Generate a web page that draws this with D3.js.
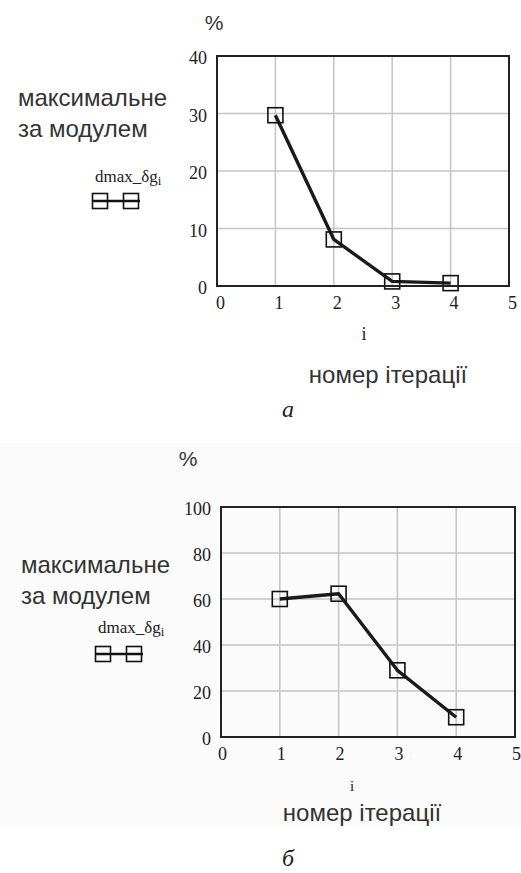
<!DOCTYPE html>
<html><head><meta charset="utf-8">
<script src="https://cdn.jsdelivr.net/npm/d3@7"></script>
<style>
html,body{margin:0;padding:0;background:#fff;}
svg{display:block;}
</style></head>
<body>
<script>
// ---- data ----
const iterations = [1, 2, 3, 4];
const seriesA = [29.7, 8.1, 0.8, 0.5];
const seriesB = [60, 62.3, 29, 8.6];
const xTicks = [0, 1, 2, 3, 4, 5];
const yTicksA = [0, 10, 20, 30, 40];
const yTicksB = [0, 20, 40, 60, 80, 100];
const yGridA = [10, 20, 30];
const yGridB = [20, 40, 60, 80];
const xGrid = [1, 2, 3, 4];
const labelLines = ["максимальне", "за модулем"];
const xTitle = "номер ітерації";
const panelLetters = ["а", "б"];

const W = 521, H = 873;
const svg = d3.select("body").append("svg").attr("width", W).attr("height", H);
svg.append("rect").attr("width", W).attr("height", H).attr("fill", "#ffffff");
svg.append("rect").attr("x", 0).attr("y", 443).attr("width", W).attr("height", 382).attr("fill", "#fbfbfb");

function panel(cfg) {
  const x = d3.scaleLinear().domain([0, 5]).range([cfg.left, cfg.right]);
  const y = d3.scaleLinear().domain([0, cfg.ymax]).range([cfg.bottom, cfg.top]);
  const g = svg.append("g");

  // grid
  g.append("g").selectAll("line").data(xGrid).join("line")
    .attr("x1", d => x(d)).attr("x2", d => x(d))
    .attr("y1", cfg.top).attr("y2", cfg.bottom)
    .attr("stroke", "#c4c4c4").attr("stroke-width", 1.5);
  g.append("g").selectAll("line").data(cfg.ygrid).join("line")
    .attr("y1", d => y(d)).attr("y2", d => y(d))
    .attr("x1", cfg.left).attr("x2", cfg.right)
    .attr("stroke", "#c4c4c4").attr("stroke-width", 1.5);

  // line
  const pts = iterations.map((d, i) => [d, cfg.data[i]]);
  g.append("path").datum(pts)
    .attr("d", d3.line().x(d => x(d[0])).y(d => y(d[1])))
    .attr("fill", "none").attr("stroke", "#1a1a1a").attr("stroke-width", 3.4)
    .attr("stroke-linejoin", "round");

  // markers
  g.append("g").selectAll("rect").data(pts).join("rect")
    .attr("x", d => x(d[0]) - 7.5).attr("y", d => y(d[1]) - 7.5)
    .attr("width", 15).attr("height", 15)
    .attr("fill", "none").attr("stroke", "#111").attr("stroke-width", 1.6);

  // frame
  g.append("rect").attr("x", cfg.left).attr("y", cfg.top)
    .attr("width", cfg.right - cfg.left).attr("height", cfg.bottom - cfg.top)
    .attr("fill", "none").attr("stroke", "#222").attr("stroke-width", 2);

  // axes (labels only)
  const xa = g.append("g").attr("transform", `translate(${cfg.xlabShift},${cfg.bottom})`)
    .call(d3.axisBottom(x).tickValues(xTicks).tickSize(0).tickPadding(10).tickFormat(d3.format("d")));
  xa.select(".domain").remove();
  xa.selectAll("text").attr("font-family", "Liberation Serif").attr("font-size", 18).attr("fill", "#222");

  const ya = g.append("g").attr("transform", `translate(${cfg.left},2)`)
    .call(d3.axisLeft(y).tickValues(cfg.yticks).tickSize(0).tickPadding(10).tickFormat(d3.format("d")));
  ya.select(".domain").remove();
  ya.selectAll("text").attr("font-family", "Liberation Serif").attr("font-size", 18).attr("fill", "#222");

  // % label
  g.append("text").attr("x", cfg.pctX).attr("y", cfg.pctY).attr("text-anchor", "middle")
    .attr("dominant-baseline", "central")
    .attr("font-family", "Liberation Sans").attr("font-size", 21).attr("fill", "#333").text("%");

  // y title
  labelLines.forEach((t, i) => {
    g.append("text").attr("x", cfg.titleX).attr("y", cfg.titleY + i * cfg.titleGap)
      .attr("font-family", "Liberation Sans").attr("font-size", 24).attr("fill", "#333")
      .text(t);
  });

  // legend
  const lt = g.append("text").attr("x", cfg.legX).attr("y", cfg.legY)
    .attr("font-family", "Liberation Serif").attr("font-size", 17).attr("fill", "#222");
  lt.append("tspan").text("dmax_δg");
  lt.append("tspan").attr("dy", 3).attr("font-size", 13).text("i");
  g.append("line").attr("x1", cfg.symX).attr("x2", cfg.symX + 48)
    .attr("y1", cfg.symY).attr("y2", cfg.symY).attr("stroke", "#111").attr("stroke-width", 2.5);
  [8, 39].forEach(o => {
    g.append("rect").attr("x", cfg.symX + o - 7.5).attr("y", cfg.symY - 7.5)
      .attr("width", 15).attr("height", 15).attr("fill", "none")
      .attr("stroke", "#111").attr("stroke-width", 1.6);
  });

  // i label
  g.append("text").attr("x", cfg.iX).attr("y", cfg.iY).attr("text-anchor", "middle")
    .attr("font-family", "Liberation Serif").attr("font-size", cfg.iSize).attr("fill", "#222").text("i");

  // x title
  g.append("text").attr("x", cfg.xtX).attr("y", cfg.xtY).attr("text-anchor", "middle")
    .attr("dominant-baseline", "central")
    .attr("font-family", "Liberation Sans").attr("font-size", 24).attr("fill", "#333").text(xTitle);

  // panel letter
  g.append("text").attr("x", cfg.letX).attr("y", cfg.letY).attr("text-anchor", "middle")
    .attr("font-family", "Liberation Serif").attr("font-style", "italic").attr("font-size", 24)
    .attr("fill", "#222").text(cfg.letter);
}

panel({
  left: 217, right: 509, top: 56, bottom: 286, ymax: 40,
  data: seriesA, yticks: yTicksA, ygrid: yGridA, xlabShift: 3,
  pctX: 214, pctY: 22,
  titleX: 18, titleY: 106, titleGap: 31,
  legX: 95, legY: 182, symX: 92, symY: 201,
  iX: 364, iY: 340, iSize: 18, xtX: 388, xtY: 374,
  letX: 288, letY: 417, letter: panelLetters[0]
});
panel({
  left: 221, right: 515, top: 507, bottom: 737, ymax: 100,
  data: seriesB, yticks: yTicksB, ygrid: yGridB, xlabShift: 1,
  pctX: 188, pctY: 458,
  titleX: 21, titleY: 573, titleGap: 31,
  legX: 98, legY: 633, symX: 95, symY: 654,
  iX: 352, iY: 791, iSize: 15, xtX: 362, xtY: 812,
  letX: 288, letY: 866, letter: panelLetters[1]
});
</script>
</body></html>
